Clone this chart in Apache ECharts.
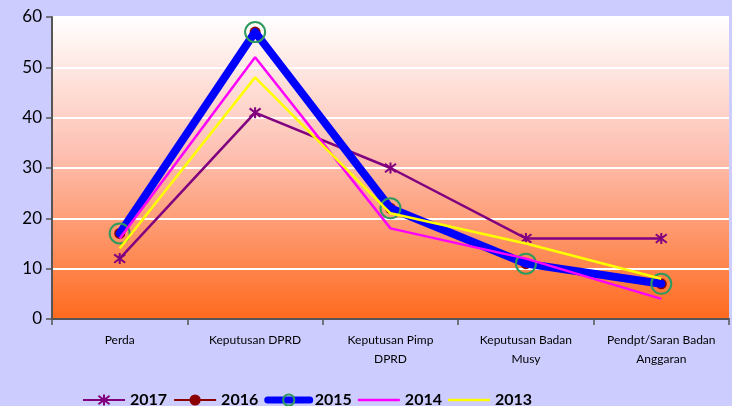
<!DOCTYPE html>
<html lang="id">
  <head>
    <meta charset="UTF-8" />
    <title>Produk Hukum DPRD</title>
    <script src="https://cdn.jsdelivr.net/npm/echarts@6.0.0/dist/echarts.min.js"></script>
    <style>
      html, body { margin: 0; padding: 0; background: #ccccff; }
    </style>
  </head>
  <body>
    <div id="main" style="width: 732px; height: 406px"></div>

    <script type="text/javascript">
      const categories = [
        "Perda",
        "Keputusan DPRD",
        "Keputusan Pimp\nDPRD",
        "Keputusan Badan\nMusy",
        "Pendpt/Saran Badan\nAnggaran",
      ];
      const yTicks = [0, 10, 20, 30, 40, 50, 60];

      const data2017 = [12, 41, 30, 16, 16];
      const data2016 = [17, 57, 22, 11, 7];
      const data2015 = [17, 57, 22, 11, 7];
      const data2014 = [16, 52, 18, 12, 4];
      const data2013 = [14, 48, 21, 15, 8];

      const asterisk = "path://M-1,-1L1,1M1,-1L-1,1M0,-1.3L0,1.3";
      const plainLine = "path://M0,0L16,0L16,1L0,1Z";
      const font = "Lato, 'Open Sans', sans-serif";

      let myChart = echarts.init(document.getElementById("main"));

      const options = {
        backgroundColor: "#ccccff",
        animation: false,
        textStyle: { fontFamily: font },
        grid: {
          left: 52,
          right: 3,
          top: 17,
          bottom: 87,
          show: true,
          borderWidth: 0,
          backgroundColor: {
            type: "linear",
            x: 0, y: 0, x2: 0, y2: 1,
            colorStops: [
              { offset: 0, color: "#ffffff" },
              { offset: 0.45, color: "#fdc0b2" },
              { offset: 1, color: "#ff6a1e" },
            ],
          },
        },
        legend: {
          bottom: -2,
          left: 82,
          padding: 0,
          itemWidth: 42,
          itemHeight: 14,
          itemGap: 6,
          textStyle: { fontSize: 16, fontWeight: "bold", color: "#000", fontFamily: font },
          data: [
            { name: "2017" },
            { name: "2016" },
            { name: "2015", lineStyle: { width: 7 } },
            { name: "2014", icon: plainLine },
            { name: "2013", icon: plainLine },
          ],
        },
        xAxis: {
          type: "category",
          data: categories,
          boundaryGap: true,
          axisLine: { lineStyle: { color: "#555", width: 2 } },
          axisTick: { show: true, alignWithLabel: false, length: 6, lineStyle: { color: "#555", width: 1.5 } },
          axisLabel: {
            interval: 0,
            fontSize: 12,
            color: "#000",
            lineHeight: 19,
            margin: 12,
            fontFamily: font,
          },
        },
        yAxis: {
          type: "value",
          min: yTicks[0],
          max: yTicks[yTicks.length - 1],
          interval: 10,
          axisLine: { show: true, lineStyle: { color: "#555", width: 2 } },
          axisTick: { show: true, length: 6, lineStyle: { color: "#555", width: 1.5 } },
          axisLabel: { fontSize: 17, color: "#000", margin: 10, fontFamily: font },
          splitLine: { show: true, lineStyle: { color: "#ffffff", width: 2 } },
        },
        series: [
          {
            name: "2017",
            type: "line",
            z: 2,
            data: data2017,
            symbol: asterisk,
            symbolSize: 11,
            lineStyle: { color: "#800080", width: 2.5 },
            itemStyle: { color: "#800080", borderColor: "#800080", borderWidth: 2 },
          },
          {
            name: "2016",
            type: "line",
            z: 1,
            data: data2016,
            symbol: "circle",
            symbolSize: 11,
            lineStyle: { color: "#8b0000", width: 2.5 },
            itemStyle: { color: "#8b0000" },
          },
          {
            name: "2015",
            type: "line",
            z: 3,
            data: data2015,
            symbol: "circle",
            symbolSize: 20,
            lineStyle: { color: "#0000ff", width: 8, cap: "round", join: "round" },
            itemStyle: { color: "rgba(0,0,0,0)", borderColor: "#2e9a5e", borderWidth: 2 },
          },
          {
            name: "2014",
            type: "line",
            z: 4,
            data: data2014,
            symbol: "none",
            lineStyle: { color: "#ff00ff", width: 2.5 },
            itemStyle: { color: "#ff00ff" },
          },
          {
            name: "2013",
            type: "line",
            z: 5,
            data: data2013,
            symbol: "none",
            lineStyle: { color: "#ffff00", width: 2.5 },
            itemStyle: { color: "#ffff00" },
          },
        ],
      };

      myChart.setOption(options);
    </script>
  </body>
</html>
